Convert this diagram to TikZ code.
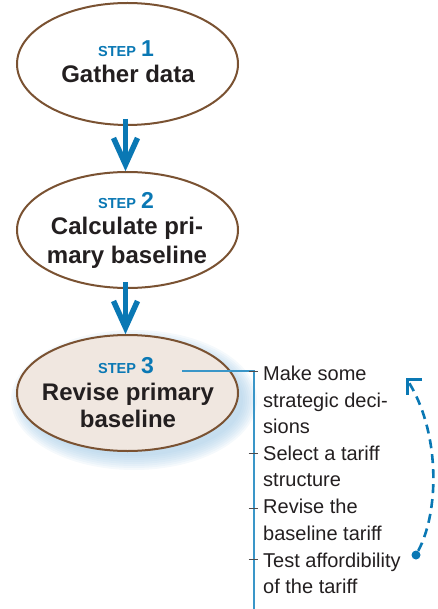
\documentclass[tikz,border=0pt]{standalone}
\usepackage{fontspec}
\setmainfont{Liberation Sans}
\usetikzlibrary{shapes.geometric,calc}

\definecolor{stepblue}{HTML}{0A78B4}
\definecolor{linkblue}{HTML}{3A96C8}
\definecolor{rimbrown}{HTML}{7A5232}
\definecolor{paleface}{HTML}{F0E7E0}
\definecolor{glowblue}{HTML}{9CC6E4}
\definecolor{inkdark}{HTML}{231F20}

\tikzset{
  stepoval/.style={ellipse, draw=rimbrown, line width=2pt, inner sep=0pt,
    minimum width=221pt, minimum height=#1},
  steplabel/.style={anchor=base, text=stepblue, inner sep=0pt},
  steptitle/.style={anchor=base, text=inkdark, inner sep=0pt,
    font=\fontsize{24}{24}\selectfont\bfseries},
  itemtext/.style={anchor=base west, text=inkdark, inner sep=0pt,
    font=\fontsize{20}{20}\selectfont},
  flowshaft/.style={draw=stepblue, line width=5.5pt},
  flowhead/.style={draw=stepblue, line width=5.5pt, line join=miter, miter limit=10},
  tick/.style={draw=inkdark!80, line width=1pt},
  loopback/.style={draw=stepblue, line width=2.6pt, dash pattern=on 9pt off 6pt}
}
\newcommand{\steptag}[1]{{\fontsize{14.5}{15}\selectfont\bfseries STEP}\hspace{5pt}{\fontsize{23}{23}\selectfont\bfseries #1}}

\begin{document}
\begin{tikzpicture}[x=1pt,y=-1pt]
\useasboundingbox (0,0) rectangle (438,609);

% soft blue glow behind the third oval, cast down and to the right
\foreach \r in {14,12,...,0}{
  \fill[glowblue, opacity=0.10] (134,400) ellipse ({109+\r} and {56+\r});
}

% the three steps
\node[stepoval=122pt, fill=white] (s1) at (127.5,64) {};
\node[stepoval=116pt, fill=white] (s2) at (127.5,230) {};
\node[stepoval=116pt, fill=paleface] (s3) at (127.5,393) {};

\node[steplabel] (s1tag) at (126,57) {\steptag{1}};
\node[steptitle] (s1a) at (128,83) {Gather data};

\node[steplabel] (s2tag) at (126,209) {\steptag{2}};
\node[steptitle] (s2a) at (127,235) {Calculate pri-};
\node[steptitle] (s2b) at (127,263) {mary baseline};

\node[steplabel] (s3tag) at (126,373) {\steptag{3}};
\node[steptitle] (s3a) at (128,400) {Revise primary};
\node[steptitle] (s3b) at (128,427) {baseline};

% arrows between steps: a thick shaft ending in an open V head
\foreach \a/\b in {s1/s2, s2/s3}{
  \draw[flowshaft] ($(\a.south)+(-2,-7)$) -- ($(\b.north)+(-2,-6)$);
  \draw[flowhead] ($(\b.north)+(-14,-33)$) -- ($(\b.north)+(-2,-6.5)$)
                  -- ($(\b.north)+(10,-33)$);
}

% bracket of sub-tasks
\coordinate (from3) at (182,371);
\coordinate (rail) at (254,371);
\coordinate (railend) at (254,609);
\draw[linkblue, line width=1.4pt] (from3) -- (rail) -- (railend);

\foreach \y/\n in {371/t1,453/t2,508/t3,559/t4}{
  \coordinate (\n l) at (248.5,\y);
  \coordinate (\n r) at (257.5,\y);
  \draw[tick] (\n l) -- (\n r);
}

\node[itemtext] (i1a) at (263,380) {Make some};
\node[itemtext] (i1b) at (263,407) {strategic deci-};
\node[itemtext] (i1c) at (263,433) {sions};
\node[itemtext] (i2a) at (263,460) {Select a tariff};
\node[itemtext] (i2b) at (263,486) {structure};
\node[itemtext] (i3a) at (263,513) {Revise the};
\node[itemtext] (i3b) at (263,540) {baseline tariff};
\node[itemtext] (i4a) at (263,567) {Test affordibility};
\node[itemtext] (i4b) at (263,593) {of the tariff};

% dashed loop back to the first sub-task
\node[circle, fill=stepblue, inner sep=0pt, minimum size=9pt] (dot) at (416,555) {};
\coordinate (corner) at (407,379.5);
\coordinate (armR) at (422,379.5);
\coordinate (armD) at (407,394.5);
\draw[loopback] (dot) .. controls (440,510) and (440,430) .. (corner);
\draw[stepblue, line width=3pt, line join=miter] (armR) -- (corner) -- (armD);
\end{tikzpicture}
\end{document}
